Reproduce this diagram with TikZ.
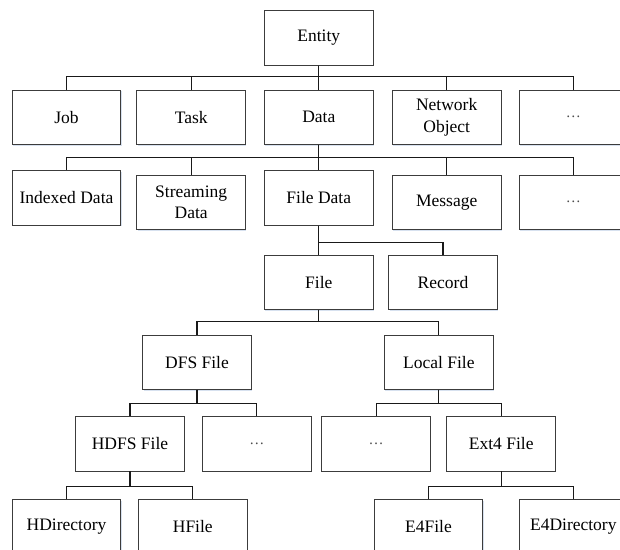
\documentclass[tikz,border=0pt]{standalone}
\usepackage{fontspec}
\setmainfont{Liberation Serif}
\usetikzlibrary{shadows}
\definecolor{boxline}{RGB}{60,60,60}
\definecolor{shade}{RGB}{205,218,236}
\tikzset{
  entbox/.style={draw=boxline, line width=0.9pt, fill=white,
    minimum width=108.6pt, minimum height=54.3pt, inner sep=0pt,
    align=center, font=\fontsize{17.5}{21.5}\selectfont,
    drop shadow={shadow xshift=0.8pt, shadow yshift=-1.3pt, fill=shade, opacity=0.8}},
  link/.style={draw=black!90, line width=1.1pt},
  dots/.style={font=\fontsize{15}{18}\selectfont\color{black!70}}
}
\begin{document}
\begin{tikzpicture}[x=1pt, y=-1pt]
\useasboundingbox[fill=white] (0,0) rectangle (620,549);

% root
\node[entbox] (entity) at (318.8,38) {Entity};
% kinds of entity
\node[entbox] (job)  at (66.5,117.2)  {Job};
\node[entbox] (task) at (191.2,117.2) {Task};
\node[entbox] (data) at (318.8,117.2) {Data};
\node[entbox] (net)  at (446.7,117.2) {Network\\Object};
\node[entbox, dots] (more1) at (573.3,117.2) {…};
% kinds of data
\node[entbox] (indexed) at (66.5,198)    {Indexed Data};
\node[entbox] (stream)  at (191.2,202.2) {Streaming\\Data};
\node[entbox] (filedata) at (318.8,198)  {File Data};
\node[entbox] (msg)     at (446.7,202.2) {Message};
\node[entbox, dots] (more2) at (573.3,202.2) {…};
% file data
\node[entbox] (file)   at (318.8,282.7) {File};
\node[entbox] (record) at (443,282.7)   {Record};
% file systems
\node[entbox] (dfs)   at (197,362.2)   {DFS File};
\node[entbox] (local) at (438.8,362.2) {Local File};
% concrete file types
\node[entbox] (hdfs)  at (130,443.8)   {HDFS File};
\node[entbox, dots] (more3) at (256.8,443.8) {…};
\node[entbox, dots] (more4) at (376.2,443.8) {…};
\node[entbox] (ext4)  at (501.2,443.8) {Ext4 File};
% leaves
\node[entbox] (hdir)  at (66.5,526.6)  {HDirectory};
\node[entbox] (hfile) at (192.8,526.6) {HFile};
\node[entbox] (efile) at (428.5,526.6) {E4File};
\node[entbox] (edir)  at (573.3,526.6) {E4Directory};

% heights of the horizontal buses
\coordinate (b0) at (0,76.7);
\coordinate (b1) at (0,157.3);
\coordinate (b2) at (0,242.3);
\coordinate (b3) at (0,321.7);
\coordinate (b4) at (0,403.3);
\coordinate (b5) at (0,486.5);

% parent-to-children connectors
\foreach \c in {job,task,data,net,more1}
  \draw[link] (entity.south) -- (entity.south |- b0) -| (\c.north);
\foreach \c in {indexed,stream,filedata,msg,more2}
  \draw[link] (data.south) -- (data.south |- b1) -| (\c.north);
\foreach \c in {file,record}
  \draw[link] (filedata.south) -- (filedata.south |- b2) -| (\c.north);
\foreach \c in {dfs,local}
  \draw[link] (file.south) -- (file.south |- b3) -| (\c.north);
\foreach \c in {hdfs,more3}
  \draw[link] (dfs.south) -- (dfs.south |- b4) -| (\c.north);
\foreach \c in {more4,ext4}
  \draw[link] (local.south) -- (local.south |- b4) -| (\c.north);
\foreach \c in {hdir,hfile}
  \draw[link] (hdfs.south) -- (hdfs.south |- b5) -| (\c.north);
\foreach \c in {efile,edir}
  \draw[link] (ext4.south) -- (ext4.south |- b5) -| (\c.north);
\end{tikzpicture}
\end{document}
